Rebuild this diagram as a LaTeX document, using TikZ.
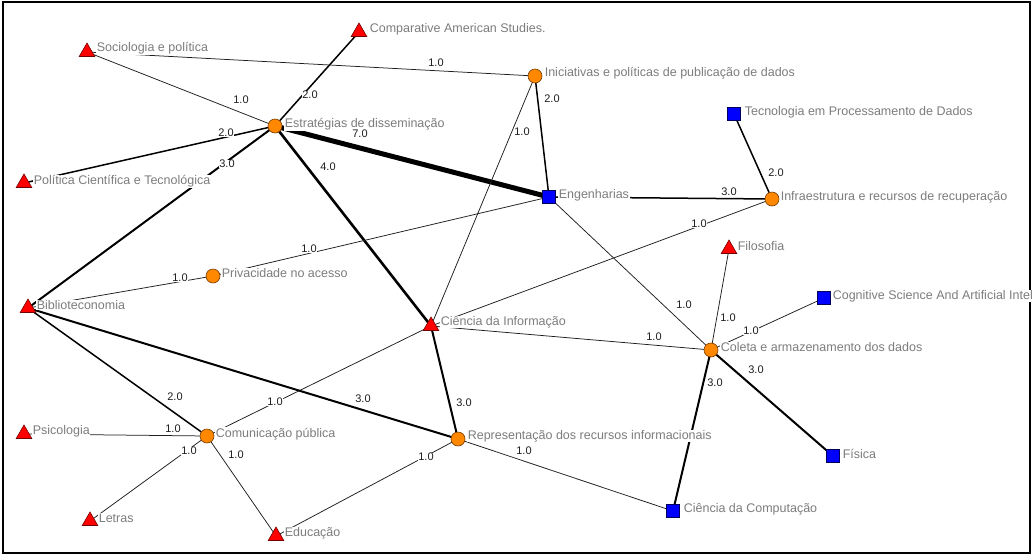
\documentclass[tikz,border=0pt]{standalone}
\usepackage{fontspec}
\setmainfont{Liberation Sans}
\usetikzlibrary{shapes.geometric}
\definecolor{labgray}{RGB}{125,125,125}
\definecolor{nodeorange}{RGB}{255,136,0}
\definecolor{orangeedge}{RGB}{120,60,0}
\definecolor{edgedark}{RGB}{30,30,30}
\pgfdeclarelayer{bg}
\pgfdeclarelayer{edges}
\pgfsetlayers{bg,edges,main}
\tikzset{
  tri/.style={regular polygon, regular polygon sides=3, minimum size=18pt, inner sep=0pt,
    fill=red, draw=red!45!black, line width=0.6pt},
  circ/.style={circle, minimum size=14pt, inner sep=0pt, fill=nodeorange, draw=orangeedge, line width=0.6pt},
  sq/.style={rectangle, minimum size=13pt, inner sep=0pt, fill=blue, draw=blue!35!black, line width=0.6pt},
  lbl/.style={anchor=west, fill=white, inner sep=0.6pt, text=labgray, font=\fontsize{12.5}{14}\selectfont},
  elab/.style={fill=white, inner sep=0.5pt, text=edgedark, font=\fontsize{11}{13}\selectfont},
  w1/.style={draw=edgedark, line width=0.75pt},
  w2/.style={draw=black, line width=1.5pt},
  w3/.style={draw=black, line width=2pt},
  w4/.style={draw=black, line width=2.6pt},
  w7/.style={draw=black, line width=5pt},
}
\begin{document}
\begin{tikzpicture}[x=1pt, y=-1pt]
\useasboundingbox (0,0) rectangle (1033,557);
\clip (0,0) rectangle (1033,557);
\begin{pgfonlayer}{bg}
\fill[white] (0,0) rectangle (1033,557);
\end{pgfonlayer}
\draw[line width=1.5pt] (3,2) rectangle (1030,553);

% vertices
\node[tri]  (comp)  at (359,32)  {};
\node[tri]  (soc)   at (87,52)   {};
\node[circ] (inic)  at (535,76)  {};
\node[circ] (estr)  at (275,126) {};
\node[sq]   (tec)   at (734,114) {};
\node[tri]  (pol)   at (24,183)  {};
\node[sq]   (eng)   at (549,197) {};
\node[circ] (infra) at (772,199) {};
\node[tri]  (fil)   at (729,249) {};
\node[circ] (priv)  at (213,276) {};
\node[sq]   (cog)   at (824,298) {};
\node[tri]  (bib)   at (28,308)  {};
\node[tri]  (ci)    at (431,326) {};
\node[circ] (col)   at (711,350) {};
\node[tri]  (psi)   at (24,434)  {};
\node[circ] (com)   at (207,436) {};
\node[circ] (rep)   at (458,439) {};
\node[sq]   (fis)   at (833,456) {};
\node[tri]  (let)   at (90,521)  {};
\node[tri]  (edu)   at (276,536) {};
\node[sq]   (cc)    at (673,511) {};

% connectors
\begin{pgfonlayer}{edges}
\path[w2] (estr.center) -- (comp.center);
\path[w1] (estr.center) -- (soc.center);
\path[w2] (estr.center) -- (pol.center);
\path[w3] (estr.center) -- (bib.center);
\path[w7] (estr.center) -- (eng.center);
\path[w4] (estr.center) -- (ci.center);
\path[w1] (soc.center) -- (inic.center);
\path[w2] (inic.center) -- (eng.center);
\path[w1] (inic.center) -- (ci.center);
\path[w2] (eng.center) -- (infra.center);
\path[w1] (eng.center) -- (priv.center);
\path[w1] (eng.center) -- (col.center);
\path[w2] (tec.center) -- (infra.center);
\path[w1] (infra.center) -- (ci.center);
\path[w1] (priv.center) -- (bib.center);
\path[w1] (fil.center) -- (col.center);
\path[w1] (cog.center) -- (col.center);
\path[w1] (ci.center) -- (col.center);
\path[w1] (ci.center) -- (com.center);
\path[w3] (ci.center) -- (rep.center);
\path[w2] (bib.center) -- (com.center);
\path[w3] (bib.center) -- (rep.center);
\path[w3] (col.center) -- (fis.center);
\path[w3] (col.center) -- (cc.center);
\path[w1] (psi.center) -- (com.center);
\path[w1] (let.center) -- (com.center);
\path[w1] (edu.center) -- (com.center);
\path[w1] (edu.center) -- (rep.center);
\path[w1] (rep.center) -- (cc.center);
\end{pgfonlayer}

% vertex labels
\node[lbl] (Lcomp)  at (369,29)  {Comparative American Studies.};
\node[lbl] (Lsoc)   at (96,48)   {Sociologia e política};
\node[lbl] (Linic)  at (544,73)  {Iniciativas e políticas de publicação de dados};
\node[lbl] (Lestr)  at (284,124) {Estratégias de disseminação};
\node[lbl] (Ltec)   at (744,112) {Tecnologia em Processamento de Dados};
\node[lbl] (Lpol)   at (33,181)  {Política Científica e Tecnológica};
\node[lbl] (Leng)   at (558,195) {Engenharias};
\node[lbl] (Linfra) at (780,197) {Infraestrutura e recursos de recuperação};
\node[lbl] (Lfil)   at (737,246) {Filosofia};
\node[lbl] (Lpriv)  at (221,273) {Privacidade no acesso};
\node[lbl] (Lcog)   at (832,296) {Cognitive Science And Artificial Intelligence};
\node[lbl] (Lbib)   at (36,305)  {Biblioteconomia};
\node[lbl] (Lci)    at (440,322) {Ciência da Informação};
\node[lbl] (Lcol)   at (720,347) {Coleta e armazenamento dos dados};
\node[lbl] (Lpsi)   at (32,431)  {Psicologia};
\node[lbl] (Lcom)   at (215,434) {Comunicação pública};
\node[lbl] (Lrep)   at (467,436) {Representação dos recursos informacionais};
\node[lbl] (Lfis)   at (842,454) {Física};
\node[lbl] (Llet)   at (98,518)  {Letras};
\node[lbl] (Ledu)   at (284,533) {Educação};
\node[lbl] (Lcc)    at (683,509) {Ciência da Computação};

% edge weight labels
\node[elab] (e1)  at (310,95)  {2.0};
\node[elab] (e2)  at (241,100) {1.0};
\node[elab] (e3)  at (226,133) {2.0};
\node[elab] (e4)  at (227,164) {3.0};
\node[elab] (e5)  at (360,134) {7.0};
\node[elab] (e6)  at (328,167) {4.0};
\node[elab] (e7)  at (436,63)  {1.0};
\node[elab] (e8)  at (552,99)  {2.0};
\node[elab] (e9)  at (522,132) {1.0};
\node[elab] (e10) at (729,192) {3.0};
\node[elab] (e11) at (309,249) {1.0};
\node[elab] (e12) at (684,305) {1.0};
\node[elab] (e13) at (776,173) {2.0};
\node[elab] (e14) at (699,224) {1.0};
\node[elab] (e15) at (180,278) {1.0};
\node[elab] (e16) at (728,318) {1.0};
\node[elab] (e17) at (751,331) {1.0};
\node[elab] (e18) at (654,337) {1.0};
\node[elab] (e19) at (275,402) {1.0};
\node[elab] (e20) at (464,403) {3.0};
\node[elab] (e21) at (175,397) {2.0};
\node[elab] (e22) at (363,399) {3.0};
\node[elab] (e23) at (756,370) {3.0};
\node[elab] (e24) at (715,383) {3.0};
\node[elab] (e25) at (173,429) {1.0};
\node[elab] (e26) at (189,451) {1.0};
\node[elab] (e27) at (236,455) {1.0};
\node[elab] (e28) at (426,457) {1.0};
\node[elab] (e29) at (524,451) {1.0};
\end{tikzpicture}
\end{document}
